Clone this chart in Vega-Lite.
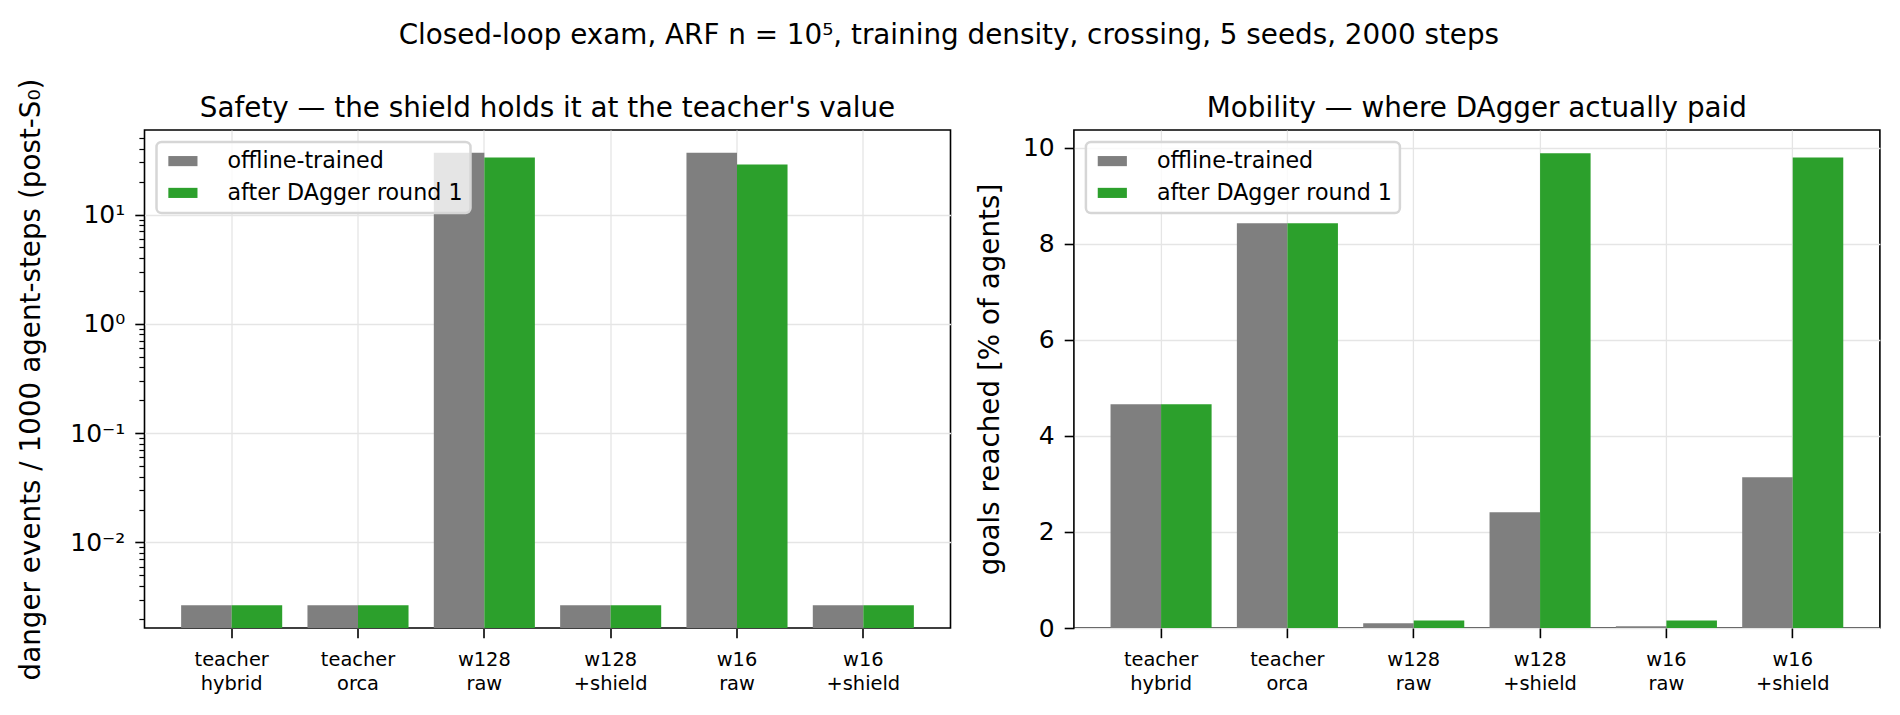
{
  "$schema": "https://vega.github.io/schema/vega-lite/v6.json",
  "background": "white",
  "padding": {"left": 16.5, "top": 21, "right": 16, "bottom": 10},
  "title": {"text": "Closed-loop exam, ARF n = 10⁵, training density, crossing, 5 seeds, 2000 steps", "anchor": "middle", "baseline": "alphabetic", "offset": 5.5},
  "datasets": {
    "d": [
      {"method": "teacher hybrid", "variant": "offline-trained", "danger": 0.00266, "goals": 4.66},
      {"method": "teacher hybrid", "variant": "after DAgger round 1", "danger": 0.00266, "goals": 4.66},
      {"method": "teacher orca", "variant": "offline-trained", "danger": 0.00266, "goals": 8.43},
      {"method": "teacher orca", "variant": "after DAgger round 1", "danger": 0.00266, "goals": 8.43},
      {"method": "w128 raw", "variant": "offline-trained", "danger": 36.8, "goals": 0.098},
      {"method": "w128 raw", "variant": "after DAgger round 1", "danger": 33.2, "goals": 0.158},
      {"method": "w128 +shield", "variant": "offline-trained", "danger": 0.00266, "goals": 2.41},
      {"method": "w128 +shield", "variant": "after DAgger round 1", "danger": 0.00266, "goals": 9.89},
      {"method": "w16 raw", "variant": "offline-trained", "danger": 36.8, "goals": 0.035},
      {"method": "w16 raw", "variant": "after DAgger round 1", "danger": 28.6, "goals": 0.158},
      {"method": "w16 +shield", "variant": "offline-trained", "danger": 0.00266, "goals": 3.14},
      {"method": "w16 +shield", "variant": "after DAgger round 1", "danger": 0.00266, "goals": 9.8}
    ]
  },
  "bounds": "flush",
  "spacing": 123.4,
  "hconcat": [
    {
      "width": 806,
      "height": 498,
      "title": {"text": "Safety — the shield holds it at the teacher's value", "baseline": "alphabetic", "offset": -66.4},
      "data": {"name": "d"},
      "mark": {"type": "bar"},
      "encoding": {
        "x": {
          "field": "method", "type": "nominal",
          "sort": ["teacher hybrid", "teacher orca", "w128 raw", "w128 +shield", "w16 raw", "w16 +shield"],
          "scale": {"paddingInner": 0.2, "paddingOuter": 0.29},
          "axis": {"title": null, "labelAngle": 0, "labelFontSize": 19.4, "labelLineHeight": 23.5, "labelExpr": "split(datum.label, ' ')", "bandPosition": 0.5, "labelPadding": 13}
        },
        "xOffset": {
          "field": "variant", "type": "nominal",
          "sort": ["offline-trained", "after DAgger round 1"],
          "scale": {"paddingInner": 0, "paddingOuter": 0}
        },
        "y": {
          "field": "danger", "type": "quantitative",
          "scale": {"type": "log", "domain": [0.00165, 59.3], "nice": false, "zero": false},
          "axis": {
            "title": "danger events / 1000 agent-steps (post-S₀)",
            "titlePadding": 24,
            "labelFontSize": 25,
            "labelPadding": 10,
            "values": [0.002, 0.003, 0.004, 0.005, 0.006, 0.007, 0.008, 0.009, 0.01, 0.02, 0.03, 0.04, 0.05, 0.06, 0.07, 0.08, 0.09, 0.1, 0.2, 0.3, 0.4, 0.5, 0.6, 0.7, 0.8, 0.9, 1, 2, 3, 4, 5, 6, 7, 8, 9, 10, 20, 30, 40, 50],
            "labelExpr": "datum.value == 10 ? '10¹' : datum.value == 1 ? '10⁰' : datum.value == 0.1 ? '10⁻¹' : datum.value == 0.01 ? '10⁻²' : ''",
            "tickSize": {"condition": {"test": "datum.value == 0.01 || datum.value == 0.1 || datum.value == 1 || datum.value == 10", "value": 9.7}, "value": 5.6},
            "tickWidth": {"condition": {"test": "datum.value == 0.01 || datum.value == 0.1 || datum.value == 1 || datum.value == 10", "value": 1.6}, "value": 1.2},
            "gridOpacity": {"condition": {"test": "datum.value == 0.01 || datum.value == 0.1 || datum.value == 1 || datum.value == 10", "value": 1}, "value": 0}
          }
        },
        "y2": {"datum": 0.00165},
        "color": {
          "field": "variant", "type": "nominal",
          "sort": ["offline-trained", "after DAgger round 1"],
          "scale": {"domain": ["offline-trained", "after DAgger round 1"], "range": ["#7f7f7f", "#2ca02c"]},
          "legend": {"title": null, "orient": "top-left"}
        }
      }
    },
    {
      "width": 806,
      "height": 498,
      "title": {"text": "Mobility — where DAgger actually paid", "baseline": "alphabetic", "offset": -14.4},
      "data": {"name": "d"},
      "mark": {"type": "bar"},
      "encoding": {
        "x": {
          "field": "method", "type": "nominal",
          "sort": ["teacher hybrid", "teacher orca", "w128 raw", "w128 +shield", "w16 raw", "w16 +shield"],
          "scale": {"paddingInner": 0.2, "paddingOuter": 0.29},
          "axis": {"title": null, "labelAngle": 0, "labelFontSize": 19.4, "labelLineHeight": 23.5, "labelExpr": "split(datum.label, ' ')", "bandPosition": 0.5, "labelPadding": 13}
        },
        "xOffset": {
          "field": "variant", "type": "nominal",
          "sort": ["offline-trained", "after DAgger round 1"],
          "scale": {"paddingInner": 0, "paddingOuter": 0}
        },
        "y": {
          "field": "goals", "type": "quantitative",
          "scale": {"domain": [0, 10.374], "nice": false},
          "axis": {"title": "goals reached [% of agents]", "titlePadding": 18, "labelFontSize": 25, "labelPadding": 10, "values": [0, 2, 4, 6, 8, 10]}
        },
        "color": {
          "field": "variant", "type": "nominal",
          "sort": ["offline-trained", "after DAgger round 1"],
          "scale": {"domain": ["offline-trained", "after DAgger round 1"], "range": ["#7f7f7f", "#2ca02c"]},
          "legend": {"title": null, "orient": "top-left"}
        }
      }
    }
  ],
  "resolve": {"legend": {"color": "independent"}, "scale": {"color": "independent", "y": "independent"}},
  "config": {
    "font": "DejaVu Sans",
    "view": {"stroke": "#000000", "strokeWidth": 1.6},
    "axis": {
      "domain": false, "grid": true, "gridColor": "#e5e5e5", "gridWidth": 1.3,
      "tickColor": "#000000", "tickWidth": 1.6, "tickSize": 9.7,
      "labelColor": "#000000", "titleColor": "#000000", "titleFontWeight": "normal", "titleFontSize": 27.8,
      "labelFont": "DejaVu Sans", "titleFont": "DejaVu Sans"
    },
    "title": {"fontSize": 27.8, "fontWeight": "normal", "color": "#000000", "font": "DejaVu Sans"},
    "legend": {
      "offset": 12,
      "padding": 8,
      "fillColor": "rgba(255,255,255,0.8)",
      "strokeColor": "#d6d6d6",
      "strokeWidth": 2.5,
      "cornerRadius": 5,
      "labelFontSize": 22.2,
      "labelFont": "DejaVu Sans",
      "labelColor": "#000000",
      "labelLimit": 400,
      "labelOffset": 40.8,
      "symbolType": "M-0.66,-0.46L1.99,-0.46L1.99,0.46L-0.66,0.46Z",
      "symbolSize": 484,
      "symbolStrokeWidth": 0,
      "symbolOpacity": 1,
      "rowPadding": 8.8
    }
  }
}
